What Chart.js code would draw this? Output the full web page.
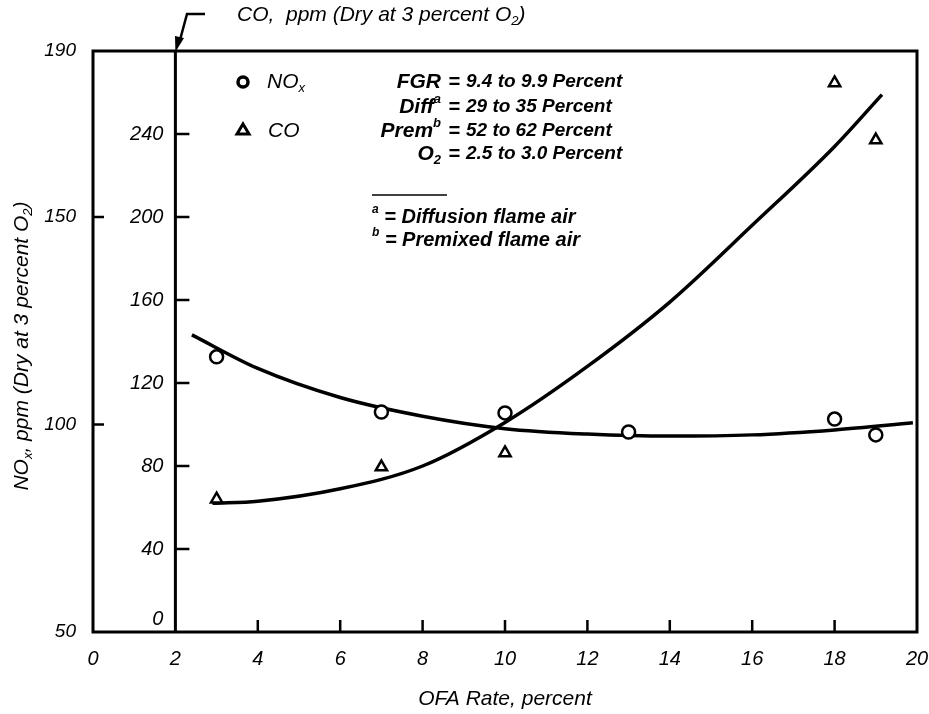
<!DOCTYPE html>
<html>
<head>
<meta charset="utf-8">
<script src="https://cdn.jsdelivr.net/npm/chart.js@4.4.0/dist/chart.umd.min.js"></script>
<style>
  html, body { margin: 0; padding: 0; background: #fff; }
  #wrap { width: 929px; height: 714px; }
</style>
</head>
<body>
<div id="wrap"><canvas id="myChart"></canvas></div>
<script>
'use strict';
// measured points
let noxX = [3, 7, 10, 13, 18, 19];
let noxY = [116.3, 103, 102.8, 98.2, 101.3, 97.5];
let coX = [3, 7, 10, 18, 19];
let coY = [64, 79.5, 86.3, 264.6, 237.1];
// faired curves
let noxCurveX = [2.4, 4, 6, 8, 10, 12, 14, 16, 18, 19.9];
let noxCurveY = [121.6, 113.5, 106.5, 102, 99, 97.7, 97.2, 97.5, 98.7, 100.4];
let coCurveX = [2.9, 4, 6, 8, 10, 12, 14, 16, 18, 19.15];
let coCurveY = [62, 63, 69, 80, 101, 128, 159, 196, 234, 259];
// axes
let xTicks = [0, 2, 4, 6, 8, 10, 12, 14, 16, 18, 20];
let noxTicks = [50, 100, 150, 190];
let coTicks = [0, 40, 80, 120, 160, 200, 240];

const FONT = '"Liberation Sans", Arial, sans-serif';

function pts(xs, ys) {
    return xs.map((x, i) => ({ x: x, y: ys[i] }));
}

function richText(ctx, parts, x, y, size, weight, align) {
    let fontOf = p => 'italic ' + weight + ' ' + (p.sub || p.sup ? Math.round(size * 0.62) : size) + 'px ' + FONT;
    let widths = parts.map(p => { ctx.font = fontOf(p); return ctx.measureText(p.t).width; });
    let total = widths.reduce((a, b) => a + b, 0);
    let cx = align === 'right' ? x - total : (align === 'center' ? x - total / 2 : x);
    ctx.textAlign = 'left';
    ctx.textBaseline = 'middle';
    parts.forEach((p, i) => {
        ctx.font = fontOf(p);
        let dy = p.sub ? size * 0.3 : (p.sup ? -size * 0.35 : 0);
        ctx.fillText(p.t, cx, y + dy);
        cx += widths[i];
    });
}

let decor = {
    id: 'decor',
    afterDraw(chart) {
        let ctx = chart.ctx;
        let a = chart.chartArea;
        let sx = chart.scales.x, sy = chart.scales.y, sc = chart.scales.co;
        ctx.save();
        ctx.strokeStyle = '#000';
        ctx.fillStyle = '#000';

        // frame
        ctx.lineWidth = 3;
        ctx.strokeRect(a.left, a.top, a.right - a.left, a.bottom - a.top);

        // inward ticks, outer axes
        ctx.lineWidth = 2.5;
        ctx.beginPath();
        noxTicks.slice(1, -1).forEach(v => {
            let py = sy.getPixelForValue(v);
            ctx.moveTo(a.left, py); ctx.lineTo(a.left + 11, py);
        });
        xTicks.slice(2, -1).forEach(v => {
            let px = sx.getPixelForValue(v);
            ctx.moveTo(px, a.bottom); ctx.lineTo(px, a.bottom - 12);
        });
        ctx.stroke();

        // CO axis standing at x = 2
        let x2 = sx.getPixelForValue(2);
        ctx.lineWidth = 3;
        ctx.beginPath();
        ctx.moveTo(x2, a.top); ctx.lineTo(x2, a.bottom);
        ctx.stroke();
        ctx.lineWidth = 2.5;
        ctx.beginPath();
        coTicks.slice(1).forEach(v => {
            let py = sc.getPixelForValue(v);
            ctx.moveTo(x2, py); ctx.lineTo(x2 + 14, py);
        });
        ctx.stroke();
        ctx.font = 'italic 20px ' + FONT;
        ctx.textAlign = 'right';
        ctx.textBaseline = 'middle';
        coTicks.forEach(v => {
            let py = sc.getPixelForValue(v);
            if (v === 0) py -= 13;
            ctx.fillText(String(v), x2 - 12, py);
        });

        // leader arrow to CO axis
        ctx.lineWidth = 2.5;
        ctx.beginPath();
        ctx.moveTo(205, 14); ctx.lineTo(187, 14); ctx.lineTo(180, 40);
        ctx.stroke();
        ctx.beginPath();
        ctx.moveTo(x2, a.top + 1); ctx.lineTo(175, 36); ctx.lineTo(184, 38);
        ctx.closePath();
        ctx.fill();

        // axis titles
        richText(ctx, [{ t: 'CO,  ppm (Dry at 3 percent O' }, { t: '2', sub: true }, { t: ')' }], 237, 15, 21, 'normal', 'left');
        ctx.save();
        ctx.translate(22, 346);
        ctx.rotate(-Math.PI / 2);
        richText(ctx, [{ t: 'NO' }, { t: 'x', sub: true }, { t: ', ppm (Dry at 3 percent O' }, { t: '2', sub: true }, { t: ')' }], 0, 0, 21, 'normal', 'center');
        ctx.restore();

        // key
        ctx.lineWidth = 3.5;
        ctx.beginPath();
        ctx.arc(243, 82, 5, 0, Math.PI * 2);
        ctx.stroke();
        ctx.lineWidth = 3;
        ctx.beginPath();
        ctx.moveTo(243, 124); ctx.lineTo(249, 134); ctx.lineTo(237, 134); ctx.closePath();
        ctx.stroke();
        richText(ctx, [{ t: 'NO' }, { t: 'x', sub: true }], 267, 82, 21, 'normal', 'left');
        richText(ctx, [{ t: 'CO' }], 268, 131, 21, 'normal', 'left');

        // test conditions
        let rows = [
            [[{ t: 'FGR' }], '9.4 to 9.9 Percent', 82],
            [[{ t: 'Diff' }, { t: 'a', sup: true }], '29 to 35 Percent', 107],
            [[{ t: 'Prem' }, { t: 'b', sup: true }], '52 to 62 Percent', 131],
            [[{ t: 'O' }, { t: '2', sub: true }], '2.5 to 3.0 Percent', 154]
        ];
        rows.forEach(r => {
            richText(ctx, r[0], 441, r[2], 21, 'bold', 'right');
            richText(ctx, [{ t: '=' }], 454, r[2], 20, 'bold', 'center');
            richText(ctx, [{ t: r[1] }], 466, r[2], 19, 'bold', 'left');
        });
        ctx.lineWidth = 1.5;
        ctx.beginPath();
        ctx.moveTo(372, 195); ctx.lineTo(447, 195);
        ctx.stroke();
        richText(ctx, [{ t: 'a', sup: true }, { t: ' = Diffusion flame air' }], 372, 217, 20, 'bold', 'left');
        richText(ctx, [{ t: 'b', sup: true }, { t: ' = Premixed flame air' }], 372, 240, 20, 'bold', 'left');

        ctx.restore();
    }
};

let ctx = document.getElementById('myChart').getContext('2d');
let myChart = new Chart(ctx, {
    type: 'scatter',
    data: {
        datasets: [
            {
                label: 'NOx',
                data: pts(noxX, noxY),
                yAxisID: 'y',
                pointStyle: 'circle',
                pointRadius: 6.5,
                pointBorderWidth: 2.5,
                pointBackgroundColor: '#fff',
                pointBorderColor: '#000',
                order: 0
            },
            {
                label: 'CO',
                data: pts(coX, coY),
                yAxisID: 'co',
                pointStyle: 'triangle',
                pointRadius: 6.5,
                pointBorderWidth: 2.5,
                pointBackgroundColor: '#fff',
                pointBorderColor: '#000',
                order: 0
            },
            {
                label: 'NOx curve',
                data: pts(noxCurveX, noxCurveY),
                yAxisID: 'y',
                showLine: true,
                pointRadius: 0,
                borderColor: '#000',
                borderWidth: 3.5,
                cubicInterpolationMode: 'monotone',
                order: 1
            },
            {
                label: 'CO curve',
                data: pts(coCurveX, coCurveY),
                yAxisID: 'co',
                showLine: true,
                pointRadius: 0,
                borderColor: '#000',
                borderWidth: 3.5,
                cubicInterpolationMode: 'monotone',
                order: 1
            }
        ]
    },
    options: {
        responsive: true,
        maintainAspectRatio: false,
        animation: false,
        layout: { padding: { top: 51, right: 12, left: 0, bottom: 0 } },
        plugins: {
            legend: { display: false },
            tooltip: { enabled: false }
        },
        scales: {
            x: {
                type: 'linear',
                min: 0,
                max: 20,
                afterBuildTicks: s => { s.ticks = xTicks.map(v => ({ value: v })); },
                afterFit: s => { s.height = 82; s.paddingLeft = 0; s.paddingRight = 0; },
                grid: { display: false, drawTicks: false },
                border: { display: false },
                ticks: { color: '#000', padding: 15, font: { family: FONT, size: 20, style: 'italic' } },
                title: {
                    display: true,
                    text: 'OFA Rate, percent',
                    color: '#000',
                    font: { family: FONT, size: 21, style: 'italic' },
                    padding: { top: 0, bottom: 2 }
                }
            },
            y: {
                type: 'linear',
                position: 'left',
                min: 50,
                max: 190,
                afterBuildTicks: s => { s.ticks = noxTicks.map(v => ({ value: v })); },
                afterFit: s => { s.width = 93; },
                grid: { display: false, drawTicks: false },
                border: { display: false },
                ticks: { color: '#000', padding: 17, font: { family: FONT, size: 19, style: 'italic' } }
            },
            co: {
                type: 'linear',
                display: false,
                min: 0,
                max: 280
            }
        }
    },
    plugins: [decor]
});
</script>
</body>
</html>
